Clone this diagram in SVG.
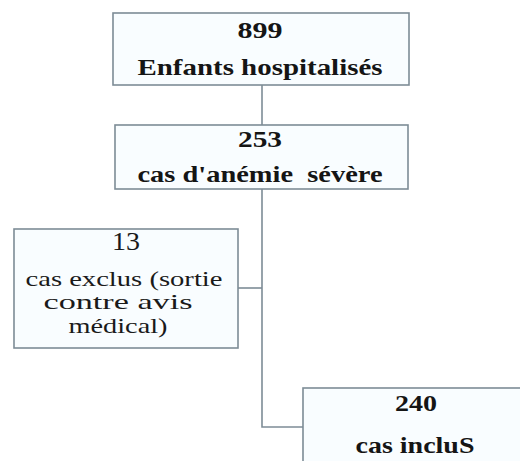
<svg xmlns="http://www.w3.org/2000/svg" width="520" height="461" viewBox="0 0 520 461">
<style>
.box{fill:#f9fdff;stroke:#7d8c96;stroke-width:1.6}
.con{fill:none;stroke:#7d8c96;stroke-width:1.6}
.b{font-family:"Liberation Serif","Times New Roman",serif;font-weight:bold;font-size:23px;fill:#151515;text-anchor:middle}
.r{font-family:"Liberation Serif","Times New Roman",serif;font-size:21px;fill:#1a1a1a;text-anchor:middle}
</style>
<rect width="520" height="461" fill="#ffffff"/>
<g id="connectors">
<path class="con" d="M262 85V125"/>
<path class="con" d="M262 189V427H303"/>
<path class="con" d="M238 288H262"/>
</g>
<g id="n899">
<rect class="box" x="113" y="13" width="296" height="72"/>
<text class="b" x="260" y="38" textLength="45" lengthAdjust="spacingAndGlyphs">899</text>
<text class="b" x="260" y="75" textLength="245" lengthAdjust="spacingAndGlyphs">Enfants hospitalisés</text>
</g>
<g id="n253">
<rect class="box" x="115" y="125" width="293" height="64"/>
<text class="b" x="260" y="147" textLength="44" lengthAdjust="spacingAndGlyphs">253</text>
<text class="b" x="260" y="182" textLength="245" lengthAdjust="spacingAndGlyphs" xml:space="preserve">cas d'anémie  sévère</text>
</g>
<g id="n13">
<rect class="box" x="14" y="229" width="224" height="119"/>
<text class="r" x="126" y="250" style="font-size:26px" textLength="28" lengthAdjust="spacingAndGlyphs">13</text>
<text class="r" x="124" y="286" textLength="197" lengthAdjust="spacingAndGlyphs">cas exclus (sortie</text>
<text class="r" x="118" y="309" textLength="149" lengthAdjust="spacingAndGlyphs">contre avis</text>
<text class="r" x="118" y="333" textLength="99" lengthAdjust="spacingAndGlyphs">médical)</text>
</g>
<g id="n240">
<rect class="box" x="303" y="388" width="226" height="90"/>
<text class="b" x="416" y="411" textLength="42" lengthAdjust="spacingAndGlyphs">240</text>
<text class="b" x="415" y="453" textLength="119" lengthAdjust="spacingAndGlyphs">cas incluS</text>
</g>
</svg>
